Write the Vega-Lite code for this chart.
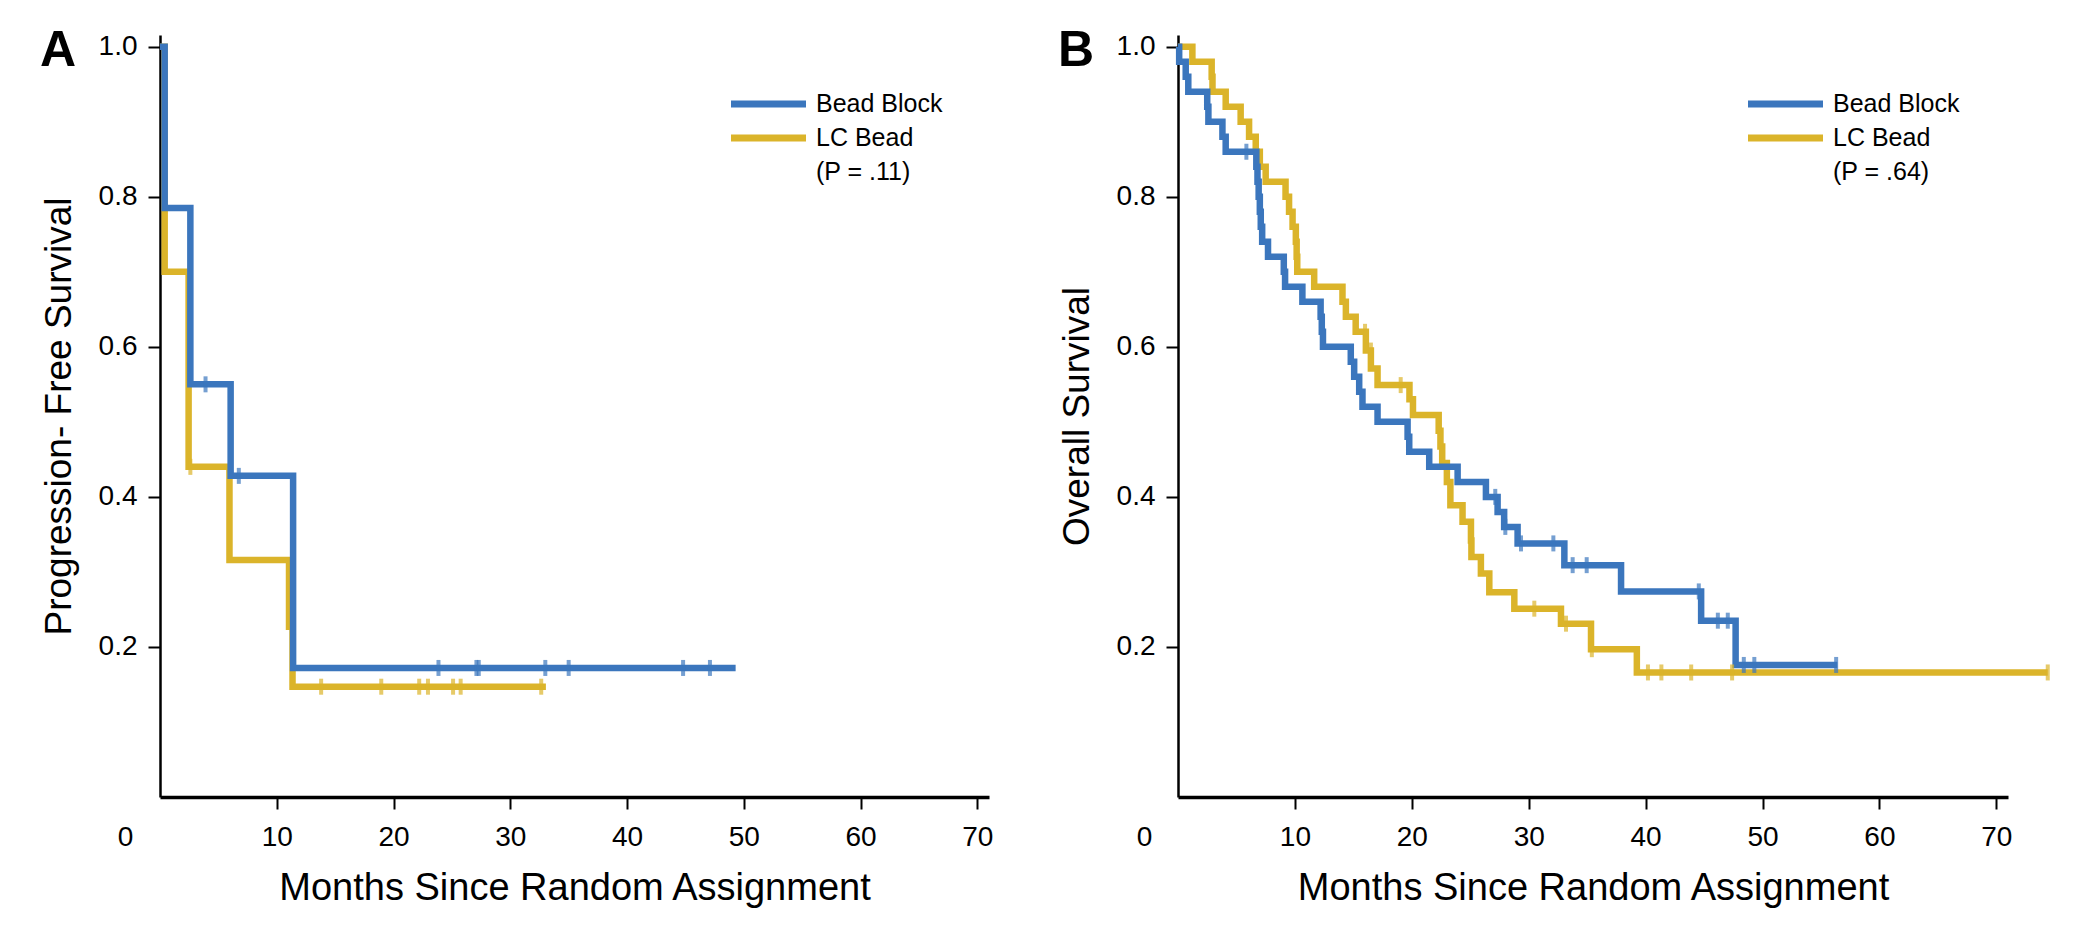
{
  "$schema": "https://vega.github.io/schema/vega-lite/v6.json",
  "background": "white",
  "padding": {"left": 40, "top": 25, "right": 5, "bottom": 5},
  "config": {
    "font": "Liberation Sans",
    "view": {"stroke": null},
    "axis": {"grid": false, "domainColor": "black", "tickColor": "black", "tickWidth": 2, "tickSize": 12, "labelColor": "black", "labelFontSize": 28, "titleFontWeight": "normal", "titleColor": "black", "labelFlush": false, "labelOverlap": false},
    "axisX": {"domainWidth": 3.5, "labelPadding": 14, "titleFontSize": 38, "titlePadding": 18},
    "axisY": {"domainWidth": 2.5, "labelPadding": 11, "titleFontSize": 37, "titlePadding": 20},
    "legend": {"orient": "none", "title": null, "symbolType": "M-2.2727,0H2.2727", "symbolSize": 1089, "symbolStrokeWidth": 7, "symbolOpacity": 1, "labelFontSize": 25, "labelColor": "black", "labelOffset": 27.5, "rowPadding": 0, "padding": 0},
    "title": {"anchor": "start", "frame": "bounds", "fontSize": 50, "fontWeight": "bold", "color": "black", "baseline": "top", "offset": -43}
  },
  "datasets": {
    "pfs_line": [
      {"group": "Bead Block", "t": 0, "s": 1},
      {"group": "Bead Block", "t": 0.4, "s": 0.785},
      {"group": "Bead Block", "t": 2.6, "s": 0.55},
      {"group": "Bead Block", "t": 6.05, "s": 0.428},
      {"group": "Bead Block", "t": 11.4, "s": 0.172},
      {"group": "Bead Block", "t": 49.3, "s": 0.172},
      {"group": "LC Bead", "t": 0, "s": 1},
      {"group": "LC Bead", "t": 0.4, "s": 0.7},
      {"group": "LC Bead", "t": 2.45, "s": 0.44},
      {"group": "LC Bead", "t": 5.95, "s": 0.316},
      {"group": "LC Bead", "t": 11.05, "s": 0.227},
      {"group": "LC Bead", "t": 11.35, "s": 0.147},
      {"group": "LC Bead", "t": 33.05, "s": 0.147}
    ],
    "pfs_cens": [
      {"group": "Bead Block", "t": 3.9, "s": 0.55},
      {"group": "Bead Block", "t": 6.75, "s": 0.428},
      {"group": "Bead Block", "t": 23.85, "s": 0.172},
      {"group": "Bead Block", "t": 27.1, "s": 0.172},
      {"group": "Bead Block", "t": 27.3, "s": 0.172},
      {"group": "Bead Block", "t": 33.0, "s": 0.172},
      {"group": "Bead Block", "t": 35.0, "s": 0.172},
      {"group": "Bead Block", "t": 44.8, "s": 0.172},
      {"group": "Bead Block", "t": 47.1, "s": 0.172},
      {"group": "LC Bead", "t": 2.6, "s": 0.44},
      {"group": "LC Bead", "t": 13.8, "s": 0.147},
      {"group": "LC Bead", "t": 18.95, "s": 0.147},
      {"group": "LC Bead", "t": 22.2, "s": 0.147},
      {"group": "LC Bead", "t": 22.95, "s": 0.147},
      {"group": "LC Bead", "t": 25.1, "s": 0.147},
      {"group": "LC Bead", "t": 25.75, "s": 0.147},
      {"group": "LC Bead", "t": 32.65, "s": 0.147}
    ],
    "os_line": [
      {"group": "Bead Block", "t": 0, "s": 1},
      {"group": "Bead Block", "t": 0.1, "s": 0.98},
      {"group": "Bead Block", "t": 0.66, "s": 0.96},
      {"group": "Bead Block", "t": 0.88, "s": 0.94},
      {"group": "Bead Block", "t": 2.5, "s": 0.92},
      {"group": "Bead Block", "t": 2.6, "s": 0.9},
      {"group": "Bead Block", "t": 3.8, "s": 0.88},
      {"group": "Bead Block", "t": 4.08, "s": 0.86},
      {"group": "Bead Block", "t": 6.7, "s": 0.84},
      {"group": "Bead Block", "t": 6.8, "s": 0.82},
      {"group": "Bead Block", "t": 6.9, "s": 0.8},
      {"group": "Bead Block", "t": 7.0, "s": 0.78},
      {"group": "Bead Block", "t": 7.08, "s": 0.76},
      {"group": "Bead Block", "t": 7.2, "s": 0.74},
      {"group": "Bead Block", "t": 7.7, "s": 0.72},
      {"group": "Bead Block", "t": 9.05, "s": 0.7},
      {"group": "Bead Block", "t": 9.16, "s": 0.68},
      {"group": "Bead Block", "t": 10.64, "s": 0.66},
      {"group": "Bead Block", "t": 12.2, "s": 0.64},
      {"group": "Bead Block", "t": 12.3, "s": 0.62},
      {"group": "Bead Block", "t": 12.4, "s": 0.6},
      {"group": "Bead Block", "t": 14.78, "s": 0.58},
      {"group": "Bead Block", "t": 15.07, "s": 0.56},
      {"group": "Bead Block", "t": 15.5, "s": 0.54},
      {"group": "Bead Block", "t": 15.78, "s": 0.52},
      {"group": "Bead Block", "t": 17.07, "s": 0.5},
      {"group": "Bead Block", "t": 19.64, "s": 0.48},
      {"group": "Bead Block", "t": 19.78, "s": 0.46},
      {"group": "Bead Block", "t": 21.49, "s": 0.44},
      {"group": "Bead Block", "t": 23.92, "s": 0.42},
      {"group": "Bead Block", "t": 26.34, "s": 0.4},
      {"group": "Bead Block", "t": 27.34, "s": 0.38},
      {"group": "Bead Block", "t": 27.9, "s": 0.36},
      {"group": "Bead Block", "t": 29.05, "s": 0.338},
      {"group": "Bead Block", "t": 33.05, "s": 0.309},
      {"group": "Bead Block", "t": 37.9, "s": 0.274},
      {"group": "Bead Block", "t": 44.75, "s": 0.235},
      {"group": "Bead Block", "t": 47.7, "s": 0.176},
      {"group": "Bead Block", "t": 56.4, "s": 0.176},
      {"group": "LC Bead", "t": 0, "s": 1},
      {"group": "LC Bead", "t": 1.23, "s": 0.98},
      {"group": "LC Bead", "t": 2.88, "s": 0.96},
      {"group": "LC Bead", "t": 2.95, "s": 0.94},
      {"group": "LC Bead", "t": 4.08, "s": 0.92},
      {"group": "LC Bead", "t": 5.36, "s": 0.9},
      {"group": "LC Bead", "t": 6.08, "s": 0.88},
      {"group": "LC Bead", "t": 6.65, "s": 0.86},
      {"group": "LC Bead", "t": 7.0, "s": 0.84},
      {"group": "LC Bead", "t": 7.5, "s": 0.82},
      {"group": "LC Bead", "t": 9.2, "s": 0.8},
      {"group": "LC Bead", "t": 9.5, "s": 0.78},
      {"group": "LC Bead", "t": 9.8, "s": 0.76},
      {"group": "LC Bead", "t": 10.08, "s": 0.74},
      {"group": "LC Bead", "t": 10.15, "s": 0.72},
      {"group": "LC Bead", "t": 10.2, "s": 0.7},
      {"group": "LC Bead", "t": 11.65, "s": 0.68},
      {"group": "LC Bead", "t": 14.07, "s": 0.66},
      {"group": "LC Bead", "t": 14.36, "s": 0.64},
      {"group": "LC Bead", "t": 15.2, "s": 0.62},
      {"group": "LC Bead", "t": 16.07, "s": 0.595},
      {"group": "LC Bead", "t": 16.5, "s": 0.571},
      {"group": "LC Bead", "t": 17.07, "s": 0.549},
      {"group": "LC Bead", "t": 19.8, "s": 0.53},
      {"group": "LC Bead", "t": 20.1, "s": 0.509},
      {"group": "LC Bead", "t": 22.3, "s": 0.488},
      {"group": "LC Bead", "t": 22.45, "s": 0.467},
      {"group": "LC Bead", "t": 22.6, "s": 0.445},
      {"group": "LC Bead", "t": 23.0, "s": 0.42},
      {"group": "LC Bead", "t": 23.3, "s": 0.389},
      {"group": "LC Bead", "t": 24.34, "s": 0.367},
      {"group": "LC Bead", "t": 25.06, "s": 0.342},
      {"group": "LC Bead", "t": 25.1, "s": 0.32},
      {"group": "LC Bead", "t": 25.91, "s": 0.298},
      {"group": "LC Bead", "t": 26.63, "s": 0.273},
      {"group": "LC Bead", "t": 28.77, "s": 0.251},
      {"group": "LC Bead", "t": 32.76, "s": 0.231},
      {"group": "LC Bead", "t": 35.33, "s": 0.197},
      {"group": "LC Bead", "t": 39.25, "s": 0.166},
      {"group": "LC Bead", "t": 74.4, "s": 0.166}
    ],
    "os_cens": [
      {"group": "Bead Block", "t": 5.85, "s": 0.86},
      {"group": "Bead Block", "t": 27.14, "s": 0.4},
      {"group": "Bead Block", "t": 28.0, "s": 0.36},
      {"group": "Bead Block", "t": 29.34, "s": 0.338},
      {"group": "Bead Block", "t": 32.11, "s": 0.338},
      {"group": "Bead Block", "t": 33.76, "s": 0.309},
      {"group": "Bead Block", "t": 34.96, "s": 0.309},
      {"group": "Bead Block", "t": 44.55, "s": 0.274},
      {"group": "Bead Block", "t": 46.18, "s": 0.235},
      {"group": "Bead Block", "t": 47.03, "s": 0.235},
      {"group": "Bead Block", "t": 48.4, "s": 0.176},
      {"group": "Bead Block", "t": 49.3, "s": 0.176},
      {"group": "Bead Block", "t": 56.3, "s": 0.176},
      {"group": "LC Bead", "t": 16.0, "s": 0.62},
      {"group": "LC Bead", "t": 16.5, "s": 0.595},
      {"group": "LC Bead", "t": 19.05, "s": 0.549},
      {"group": "LC Bead", "t": 30.48, "s": 0.251},
      {"group": "LC Bead", "t": 33.19, "s": 0.231},
      {"group": "LC Bead", "t": 35.4, "s": 0.197},
      {"group": "LC Bead", "t": 40.2, "s": 0.166},
      {"group": "LC Bead", "t": 41.35, "s": 0.166},
      {"group": "LC Bead", "t": 43.9, "s": 0.166},
      {"group": "LC Bead", "t": 47.4, "s": 0.166},
      {"group": "LC Bead", "t": 74.4, "s": 0.166}
    ]
  },
  "spacing": 189,
  "bounds": "flush",
  "resolve": {"scale": {"color": "independent"}, "legend": {"color": "independent"}},
  "hconcat": [
    {
      "width": 829,
      "height": 762,
      "title": {"text": "A"},
      "encoding": {
        "x": {"field": "t", "type": "quantitative", "scale": {"domain": [0, 71], "nice": false, "zero": false},
          "axis": {"title": "Months Since Random Assignment", "values": [0, 10, 20, 30, 40, 50, 60, 70], "format": "d",
            "tickOpacity": {"condition": {"test": "datum.value === 0", "value": 0}, "value": 1},
            "labelOffset": {"condition": {"test": "datum.value === 0", "value": -35}, "value": 0}}},
        "y": {"field": "s", "type": "quantitative", "scale": {"domain": [0, 1.0156], "nice": false, "zero": false},
          "axis": {"title": "Progression- Free Survival", "values": [0.2, 0.4, 0.6, 0.8, 1.0], "format": ".1f"}}
      },
      "layer": [
        {
          "data": {"name": "pfs_line"},
          "transform": [{"filter": "datum.group === 'LC Bead'"}],
          "mark": {"type": "line", "interpolate": "step-after", "strokeWidth": 6.5, "strokeJoin": "miter"},
          "encoding": {"color": {"field": "group", "type": "nominal",
            "scale": {"domain": ["Bead Block", "LC Bead", "(P = .11)"], "range": ["#3b76bd", "#dbb42a", "rgba(0,0,0,0)"]},
            "legend": {"legendX": 588.5, "legendY": 49}}}
        },
        {
          "data": {"name": "pfs_line"},
          "transform": [{"filter": "datum.group === 'Bead Block'"}],
          "mark": {"type": "line", "interpolate": "step-after", "strokeWidth": 6.5, "strokeJoin": "miter"},
          "encoding": {"color": {"field": "group", "type": "nominal"}}
        },
        {
          "data": {"name": "pfs_cens"},
          "mark": {"type": "tick", "orient": "vertical", "size": 16, "thickness": 4},
          "encoding": {"color": {"field": "group", "type": "nominal"}}
        }
      ]
    },
    {
      "width": 830,
      "height": 762,
      "title": {"text": "B"},
      "encoding": {
        "x": {"field": "t", "type": "quantitative", "scale": {"domain": [0, 71], "nice": false, "zero": false},
          "axis": {"title": "Months Since Random Assignment", "values": [0, 10, 20, 30, 40, 50, 60, 70], "format": "d",
            "tickOpacity": {"condition": {"test": "datum.value === 0", "value": 0}, "value": 1},
            "labelOffset": {"condition": {"test": "datum.value === 0", "value": -34}, "value": 0}}},
        "y": {"field": "s", "type": "quantitative", "scale": {"domain": [0, 1.0156], "nice": false, "zero": false},
          "axis": {"title": "Overall Survival", "values": [0.2, 0.4, 0.6, 0.8, 1.0], "format": ".1f"}}
      },
      "layer": [
        {
          "data": {"name": "os_line"},
          "transform": [{"filter": "datum.group === 'LC Bead'"}],
          "mark": {"type": "line", "interpolate": "step-after", "strokeWidth": 6.5, "strokeJoin": "miter"},
          "encoding": {"color": {"field": "group", "type": "nominal",
            "scale": {"domain": ["Bead Block", "LC Bead", "(P = .64)"], "range": ["#3b76bd", "#dbb42a", "rgba(0,0,0,0)"]},
            "legend": {"legendX": 587.5, "legendY": 49}}}
        },
        {
          "data": {"name": "os_line"},
          "transform": [{"filter": "datum.group === 'Bead Block'"}],
          "mark": {"type": "line", "interpolate": "step-after", "strokeWidth": 6.5, "strokeJoin": "miter"},
          "encoding": {"color": {"field": "group", "type": "nominal"}}
        },
        {
          "data": {"name": "os_cens"},
          "mark": {"type": "tick", "orient": "vertical", "size": 16, "thickness": 4},
          "encoding": {"color": {"field": "group", "type": "nominal"}}
        }
      ]
    }
  ]
}
